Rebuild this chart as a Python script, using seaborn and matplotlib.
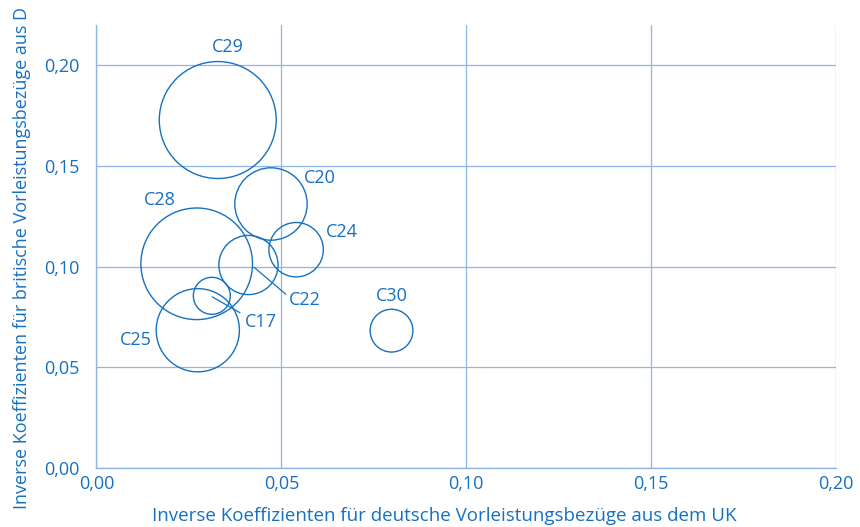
import pandas as pd
import matplotlib.pyplot as plt
import seaborn as sns

# Branchen (Blasen)
branchen = ["C29", "C20", "C24", "C28", "C22", "C17", "C25", "C30"]
# Inverse Koeffizienten fuer deutsche Vorleistungsbezuege aus dem UK
x_uk = [0.0328, 0.0472, 0.0540, 0.0271, 0.0411, 0.0312, 0.0274, 0.0798]
# Inverse Koeffizienten fuer britische Vorleistungsbezuege aus D
y_d = [0.1728, 0.1311, 0.1084, 0.1014, 0.1008, 0.0855, 0.0684, 0.0682]
# Blasengroesse (relativ)
gewicht = [3420, 1310, 740, 3114, 876, 342, 1731, 458]

# Beschriftungspositionen
label_x = [0.0355, 0.0604, 0.0664, 0.0172, 0.0564, 0.0445, 0.0107, 0.0799]
label_y = [0.2089, 0.1439, 0.1171, 0.1330, 0.0834, 0.0725, 0.0635, 0.0854]

xticks = [0.00, 0.05, 0.10, 0.15, 0.20]
yticks = [0.00, 0.05, 0.10, 0.15, 0.20]

df = pd.DataFrame({"branche": branchen, "x": x_uk, "y": y_d, "w": gewicht})

blau = "#1670c0"
gitter = "#8fb6e6"

sns.set_style("white")
plt.rcParams["font.family"] = ["Open Sans", "DejaVu Sans"]

fig = plt.figure(figsize=(8.6, 5.27), dpi=100)
ax = fig.add_axes([0.1122, 0.112, 0.972 - 0.1122, 0.9526 - 0.112])

wmax = max(gewicht)
sns.scatterplot(data=df, x="x", y="y", size="w", sizes=(0, 2.0736 * wmax),
                size_norm=(0, wmax), facecolor="none", edgecolor=blau,
                linewidth=1.0, legend=False, ax=ax, zorder=3)

for b, lx, ly in zip(branchen, label_x, label_y):
    ax.text(lx, ly, b, color=blau, fontsize=13, ha="center", va="center")

# Hinweislinien
ax.plot([0.0426, 0.0512], [0.0997, 0.0863], color=blau, lw=0.9)
ax.plot([0.0313, 0.0388], [0.0850, 0.0771], color=blau, lw=0.9)

ax.set_xlim(0, 0.20)
ax.set_ylim(0, 0.22)
ax.set_xticks(xticks)
ax.set_yticks(yticks)
ax.set_xticklabels([f"{t:.2f}".replace(".", ",") for t in xticks])
ax.set_yticklabels([f"{t:.2f}".replace(".", ",") for t in yticks])
ax.tick_params(colors=blau, labelsize=13, length=0)
ax.tick_params(axis="x", pad=5)
ax.tick_params(axis="y", pad=12)
ax.grid(True, color=gitter, lw=0.9)
ax.set_axisbelow(True)
for s in ["top", "right"]:
    ax.spines[s].set_visible(False)
for s in ["left", "bottom"]:
    ax.spines[s].set_color(gitter)
    ax.spines[s].set_linewidth(1.0)

ax.set_xlabel("Inverse Koeffizienten für deutsche Vorleistungsbezüge aus dem UK",
              color=blau, fontsize=13.5, labelpad=10)
ax.set_ylabel("Inverse Koeffizienten für britische Vorleistungsbezüge aus D",
              color=blau, fontsize=13, labelpad=10)
ax.xaxis.label.set_x(0.47)
ax.yaxis.label.set_y(0.475)

fig.savefig("out.png", dpi=100)
